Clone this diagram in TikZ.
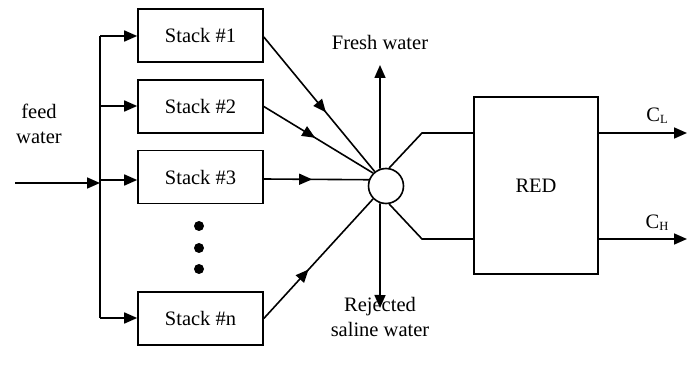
\documentclass[tikz,border=0pt]{standalone}
\usepackage{fontspec}
\setmainfont{Liberation Serif}
\usetikzlibrary{arrows.meta,decorations.markings}
\tikzset{
  ln/.style={line width=1.6pt},
  tipA/.tip={Triangle[length=13pt,width=11pt]},
  arr/.style={ln,-{tipA}},
  stackbox/.style={draw,line width=1.6pt,minimum width=125pt,minimum height=53pt,inner sep=0pt,font=\fontsize{20.5}{24}\selectfont},
  lbl/.style={font=\fontsize{20.5}{25}\selectfont,align=center,inner sep=0pt},
  midarrow/.style={ln,postaction={decorate,decoration={markings,mark=at position #1 with {\arrow{tipA}}}}},
  dotn/.style={circle,fill=black,minimum size=10pt,inner sep=0pt}
}
\newcommand{\mysub}[1]{{\fontsize{12.5}{12.5}\selectfont\raisebox{-2pt}{#1}}}
\begin{document}
\begin{tikzpicture}[x=1pt,y=-1pt]
\useasboundingbox (0,0) rectangle (691,366);
% stacks
\node[stackbox] (s1) at (200.5,35.5) {Stack \#1};
\node[stackbox] (s2) at (200.5,106.5) {Stack \#2};
\node[stackbox] (s3) at (200.5,177) {Stack \#3};
\node[stackbox] (sn) at (200.5,318.5) {Stack \#n};
\node[dotn] (d1) at (199,226) {};
\node[dotn] (d2) at (199,248) {};
\node[dotn] (d3) at (199,269) {};
% feed
\node[lbl,anchor=base] (feed) at (39,144) {feed\\water};
\coordinate (fin) at (15,183);
\coordinate (bus) at (100,183);
\coordinate (bt) at (100,36);
\coordinate (bb) at (100,318);
\draw[arr] (fin) -- (bus);
\draw[ln] (bt) -- (bb);
\draw[arr] (bt) -- (s1.west |- bt);
\draw[arr] (100,106) -- (s2.west |- 0,106);
\draw[arr] (100,180) -- (s3.west |- 0,180);
\draw[arr] (bb) -- (sn.west |- bb);
% mixer
\node[draw,circle,line width=1.6pt,minimum size=35pt,inner sep=0pt] (c) at (386,186) {};
\draw[midarrow=0.56] (s1.east |- 0,37) -- (c.128);
\draw[midarrow=0.47] (s2.east) -- (c.135);
\draw[midarrow=0.46] (s3.east |- 0,179) -- (c.160);
\draw[midarrow=0.41] (sn.east) -- (c.225);
% fresh / rejected
\coordinate (ft) at (380,65);
\coordinate (rt) at (380,308);
\draw[arr] (c.109) -- (ft);
\draw[arr] (c.251) -- (rt);
\node[lbl,anchor=base] (fw) at (380,50) {Fresh water};
\node[lbl,anchor=base] (rw) at (380,336) {Rejected\\saline water};
% RED
\node[draw,line width=1.6pt,minimum width=124pt,minimum height=177pt,inner sep=0pt,font=\fontsize{20.5}{24}\selectfont] (red) at (536,185.5) {RED};
\coordinate (k1) at (422,133);
\coordinate (k2) at (422,239);
\draw[ln] (c.80) -- (k1) -- (red.west |- k1);
\draw[ln] (c.280) -- (k2) -- (red.west |- k2);
\coordinate (o1) at (687,133);
\coordinate (o2) at (687,239);
\draw[arr] (red.east |- o1) -- (o1);
\draw[arr] (red.east |- o2) -- (o2);
\node[lbl,anchor=base] (cl) at (657,122) {C\mysub{L}};
\node[lbl,anchor=base] (ch) at (657,229) {C\mysub{H}};
\end{tikzpicture}
\end{document}
